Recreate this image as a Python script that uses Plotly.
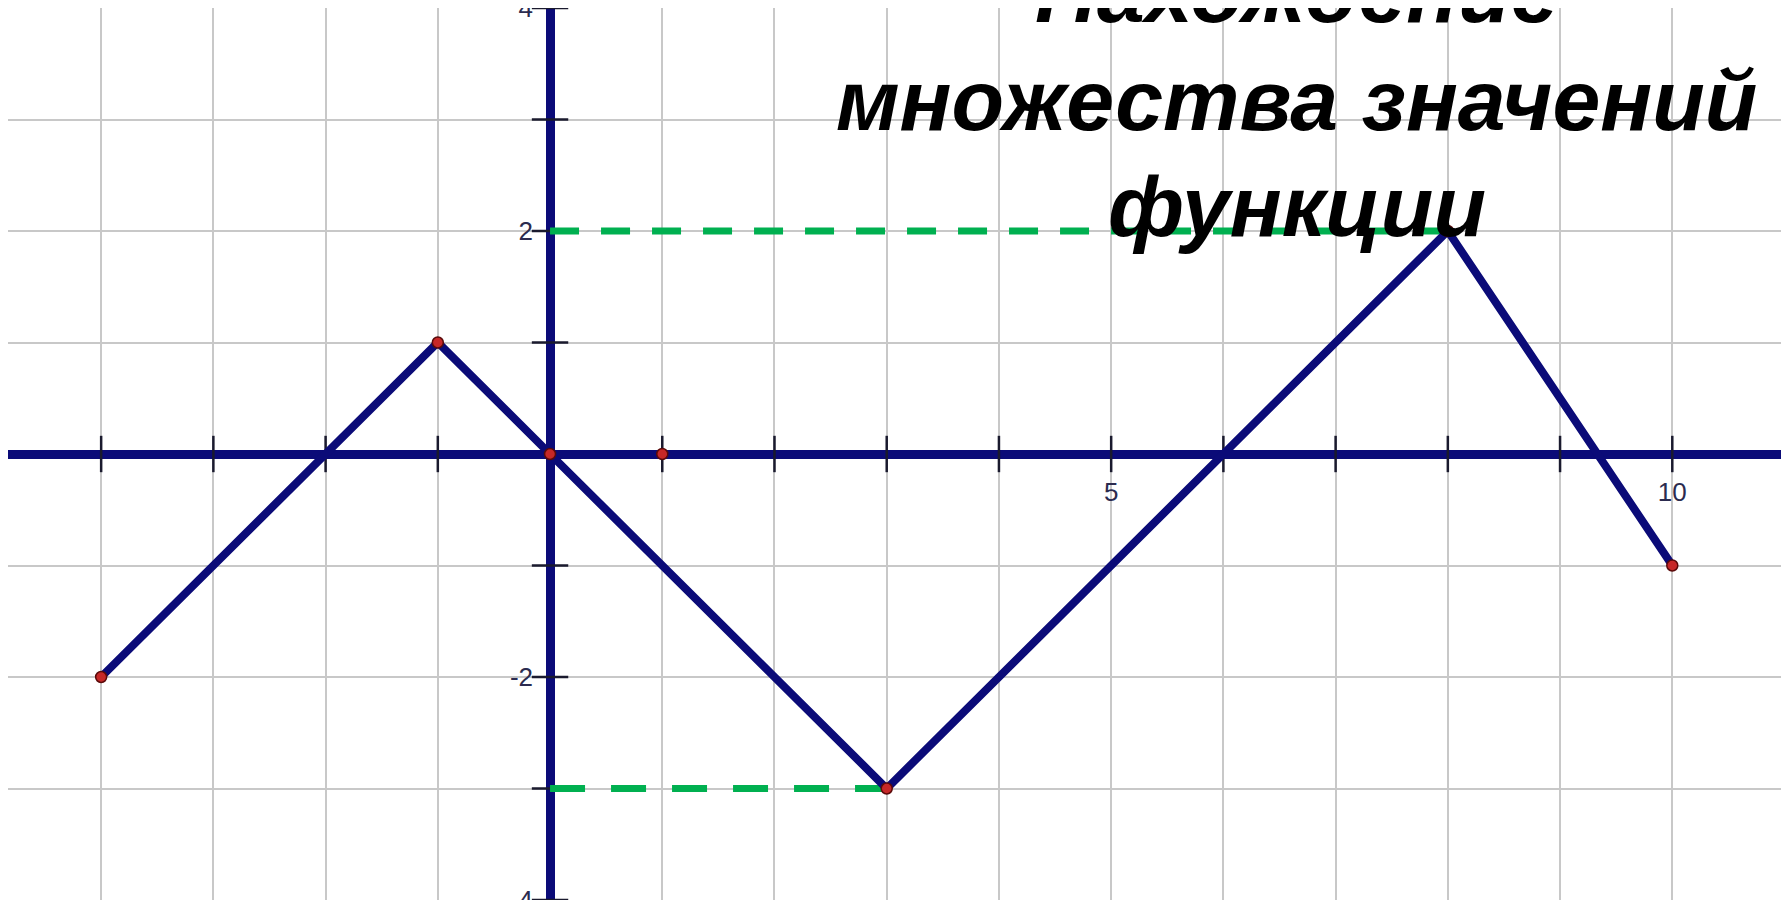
import plotly.graph_objects as go

# function graph (vertices of the broken line)
func_x = [-4, -1, 0, 3, 8, 10]
func_y = [-2, 1, 0, -3, 2, -1]

# red points
pts_x = [-4, -1, 0, 1, 3, 8, 10]
pts_y = [-2, 1, 0, 0, -3, 2, -1]

# range of values (green dashed guides)
max_x = [0, 8]
max_y = [2, 2]
min_x = [0, 3]
min_y = [-3, -3]

# axes ticks
x_ticks = list(range(-5, 12))
x_labels = {5: "5", 10: "10"}
y_ticks = list(range(-4, 5))
y_labels = {2: "2", -2: "-2", 4: "4", -4: "-4"}

title_lines = ["Нахождение", "множества значений", "функции"]

x_range = [-4.83, 11.04]
y_range = [-4.0, 4.0]

navy = "#0b0b78"

fig = go.Figure()

# tick marks crossing the axes
fig.add_trace(go.Scatter(
    x=[t for t in x_ticks if t != 0], y=[0] * (len(x_ticks) - 1),
    mode="markers",
    marker=dict(symbol="line-ns", size=26, line=dict(width=2.5, color="#1a1a2e")),
    hoverinfo="skip"))
fig.add_trace(go.Scatter(
    x=[0] * (len(y_ticks) - 1), y=[t for t in y_ticks if t != 0],
    mode="markers",
    marker=dict(symbol="line-ew", size=26, line=dict(width=2.5, color="#1a1a2e")),
    hoverinfo="skip"))

fig.add_trace(go.Scatter(x=max_x, y=max_y, mode="lines",
                         line=dict(color="#00b050", width=7, dash="29px,22px"),
                         hoverinfo="skip"))
fig.add_trace(go.Scatter(x=min_x, y=min_y, mode="lines",
                         line=dict(color="#00b050", width=7, dash="35px,26px"),
                         hoverinfo="skip"))

fig.add_trace(go.Scatter(x=func_x, y=func_y, mode="lines",
                         line=dict(color=navy, width=8), hoverinfo="skip"))

fig.add_trace(go.Scatter(x=pts_x, y=pts_y, mode="markers",
                         marker=dict(size=11, color="#c62828",
                                     line=dict(width=1.5, color="#5a0a0a")),
                         hoverinfo="skip"))

ypos = [1.0174, 0.897, 0.778]
for txt, yp in zip(title_lines, ypos):
    fig.add_annotation(text="<b><i>" + txt + "</i></b>", xref="paper", yref="paper",
                       x=0.7237, y=yp, xanchor="center", yanchor="middle",
                       showarrow=False,
                       font=dict(family="Liberation Sans, Arial", size=86, color="black"))

tick_font = dict(family="Liberation Sans, Arial", size=26, color="#2b2b4f")

fig.update_layout(
    width=1781, height=892,
    margin=dict(l=0, r=0, t=0, b=0, autoexpand=False),
    paper_bgcolor="white", plot_bgcolor="white",
    showlegend=False,
    xaxis=dict(range=x_range, tickvals=x_ticks,
               ticktext=[x_labels.get(t, "") for t in x_ticks],
               showgrid=True, gridcolor="#c8c8c8", gridwidth=2,
               zeroline=True, zerolinecolor=navy, zerolinewidth=9,
               showline=False, ticks="", anchor="free",
               position=(0 - y_range[0]) / (y_range[1] - y_range[0]),
               ticklabelstandoff=20, tickfont=tick_font, automargin=False,
               ticklabeloverflow="allow"),
    yaxis=dict(range=y_range, tickvals=y_ticks,
               ticktext=[y_labels.get(t, "") for t in y_ticks],
               showgrid=True, gridcolor="#c8c8c8", gridwidth=2,
               zeroline=True, zerolinecolor=navy, zerolinewidth=9,
               showline=False, ticks="", anchor="free",
               position=(0 - x_range[0]) / (x_range[1] - x_range[0]),
               ticklabelstandoff=17, tickfont=tick_font, automargin=False,
               ticklabeloverflow="allow"),
)

fig.write_html("out.html")
